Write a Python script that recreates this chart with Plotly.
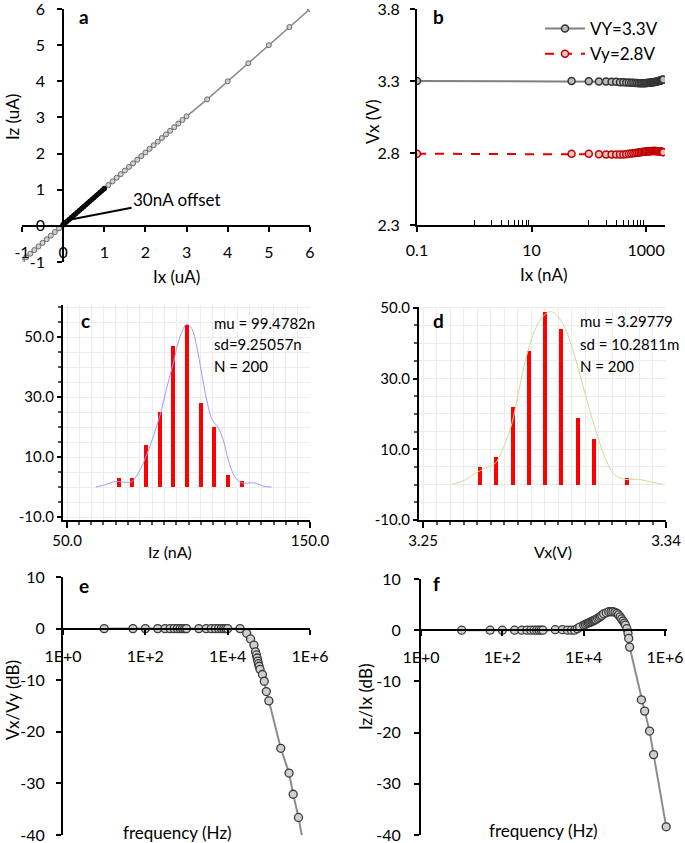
import plotly.graph_objects as go

W, H = 685, 843

# ---------------- Panel a data (uA) ----------------
a_ix_coarse = [-1.0, -0.9, -0.8, -0.7, -0.6, -0.5, -0.4, -0.3, -0.2, -0.1, 0.0,
               1.0, 1.1, 1.2, 1.3, 1.4, 1.5, 1.6, 1.7, 1.8, 1.9, 2.0, 2.1, 2.2,
               2.3, 2.4, 2.5, 2.6, 2.7, 2.8, 2.9, 3.0, 3.5, 4.0, 4.5, 5.0, 5.5, 6.0]
a_iz_coarse = [-0.97, -0.87, -0.77, -0.67, -0.57, -0.47, -0.37, -0.27, -0.17, -0.07, 0.03,
               1.03, 1.13, 1.23, 1.33, 1.43, 1.53, 1.63, 1.73, 1.83, 1.93, 2.03, 2.13, 2.23,
               2.33, 2.43, 2.53, 2.63, 2.73, 2.83, 2.93, 3.03, 3.5, 4.0, 4.5, 5.0, 5.5, 6.0]
a_ix_fine = [0.0, 0.01, 0.02, 0.03, 0.04, 0.05, 0.1, 0.15, 0.2, 0.25, 0.3, 0.35, 0.4,
             0.45, 0.5, 0.55, 0.6, 0.65, 0.7, 0.75, 0.8, 0.85, 0.9, 0.95, 1.0]
a_iz_fine = [0.03, 0.04, 0.05, 0.06, 0.07, 0.08, 0.13, 0.18, 0.23, 0.28, 0.33, 0.38, 0.43,
             0.48, 0.53, 0.58, 0.63, 0.68, 0.73, 0.78, 0.83, 0.88, 0.93, 0.98, 1.03]

# ---------------- Panel b data ----------------
b_ix = [0.1, 50, 100, 150, 200, 250, 300, 350, 400, 450, 500, 550, 600, 650, 700, 750,
        800, 850, 900, 950, 1000, 1050, 1100, 1150, 1200, 1250, 1300, 1350, 1400, 1450,
        1500, 1550, 1600, 1650, 1700, 1750, 1800, 1850, 1900, 1950, 2000]
b_vx_33 = [3.300, 3.300, 3.299, 3.297, 3.296, 3.295, 3.294, 3.292, 3.291, 3.290, 3.289,
           3.288, 3.287, 3.286, 3.286, 3.285, 3.285, 3.285, 3.285, 3.285, 3.286, 3.286,
           3.287, 3.288, 3.289, 3.290, 3.291, 3.292, 3.293, 3.294, 3.295, 3.297, 3.298,
           3.300, 3.301, 3.303, 3.304, 3.306, 3.307, 3.309, 3.310]
b_vx_28 = [2.795, 2.795, 2.794, 2.792, 2.790, 2.789, 2.789, 2.789, 2.790, 2.792, 2.794,
           2.796, 2.798, 2.800, 2.802, 2.804, 2.806, 2.807, 2.808, 2.809, 2.810, 2.811,
           2.812, 2.813, 2.813, 2.814, 2.814, 2.814, 2.814, 2.814, 2.814, 2.813, 2.813,
           2.812, 2.812, 2.811, 2.810, 2.809, 2.808, 2.807, 2.806]
b_legend = ["VY=3.3V", "Vy=2.8V"]

# ---------------- Panel c data ----------------
c_bin = [71.4, 76.9, 82.5, 88.2, 93.8, 99.4, 105.0, 110.6, 116.3, 121.9]
c_count = [3, 3, 14, 25, 47, 54, 28, 20, 4, 2]
c_kde_x = [61.9, 66.3, 69.8, 73.9, 76.6, 79.3, 82.5, 85.5, 88.3, 91.0, 93.7, 96.5, 99.3,
           101.3, 103.4, 105.4, 107.5, 109.5, 112.3, 114.3, 116.4, 119.1, 121.9, 125.3,
           128.1, 130.8, 134.2]
c_kde_y = [0, 0.9, 1.8, 1.6, 1.8, 4.6, 10.1, 16.8, 24.0, 32.9, 41.2, 50.1, 54.3, 52.9,
           46.8, 37.9, 29.0, 22.9, 19.6, 15.7, 9.0, 3.4, 1.4, 1.4, 1.2, 0.3, 0]
c_stats = ["mu = 99.4782n", "sd=9.25057n", "N = 200"]

# ---------------- Panel d data ----------------
d_bin = [3.2711, 3.2770, 3.2832, 3.2893, 3.2953, 3.3012, 3.3075, 3.3134, 3.3196, 3.3257]
d_count = [5, 8, 22, 38, 49, 44, 19, 13, 0, 2]
d_kde_x = [3.2606, 3.2656, 3.2693, 3.2730, 3.2767, 3.2791, 3.2829, 3.2853, 3.2878, 3.2903,
           3.2933, 3.2970, 3.2995, 3.3026, 3.3057, 3.3088, 3.3119, 3.3149, 3.3180, 3.3211,
           3.3248, 3.3297, 3.3347, 3.3390]
d_kde_y = [0, 1.3, 3.2, 4.6, 6.0, 9.3, 17.3, 25.8, 34.7, 41.3, 46.5, 48.9, 47.9, 44.2,
           37.6, 29.1, 20.6, 13.1, 6.5, 2.7, 1.5, 1.5, 0.7, 0]
d_stats = ["mu = 3.29779", "sd = 10.2811m", "N = 200"]

# ---------------- Panel e data ----------------
e_freq = [10, 50, 100, 200, 300, 400, 500, 600, 700, 800, 900, 1000, 2000, 3000, 4000,
          5000, 6000, 7000, 8000, 9000, 10000, 20000, 29000, 36000, 43500, 47500, 50000,
          52000, 54000, 56000, 58000, 61000, 70000, 77500, 87000, 100000, 195000, 310000,
          390000, 525000, 700000]
e_gain = [0, 0, 0, 0, 0, 0, 0, 0, 0, 0, 0, 0, 0, 0, 0, 0, 0, 0, 0, 0, 0, 0, -0.9, -2.0,
          -3.2, -4.5, -5.1, -5.7, -6.3, -6.8, -7.3, -7.9, -8.9, -10.2, -12.2, -14.0, -23.2,
          -28.0, -32.1, -36.6, -41.9]

# ---------------- Panel f data ----------------
f_freq = [10, 50, 100, 200, 300, 400, 500, 600, 700, 800, 900, 1000, 2000, 3000, 4000,
          5000, 6000, 7000, 8000, 10000, 11000, 12000, 13000, 14000, 15000, 16000, 17000,
          18000, 19000, 20000, 22000, 24000, 26000, 28000, 31000, 36000, 41500, 47000,
          52500, 59000, 66000, 72000, 79000, 86000, 93000, 100000, 106000, 115000, 123000,
          128000, 135000, 263000, 316000, 417000, 525000, 1070000]
f_gain = [0, 0, 0, 0, 0, 0, 0, 0, 0, 0, 0, 0, 0.1, 0.1, 0, 0, 0, 0.3, 0.6, 1.0, 1.1, 1.3,
          1.4, 1.5, 1.6, 1.7, 1.8, 1.9, 2.0, 2.1, 2.3, 2.5, 2.7, 2.9, 3.2, 3.4, 3.6, 3.6,
          3.6, 3.5, 3.3, 3.0, 2.6, 2.2, 1.8, 1.4, 1.0, 0.3, -0.6, -1.6, -3.3, -13.6, -15.8,
          -19.7, -24.3, -38.4]

FONT = "Lato"


def fx(px):
    return px / W


def fy(py):
    return 1 - py / H


fig = go.Figure()

# ---- a ----
fig.add_trace(go.Scatter(x=a_ix_coarse, y=a_iz_coarse, mode="lines+markers",
                         line=dict(color="#8a8a8a", width=1.5),
                         marker=dict(size=5, color="#d0d0d0", line=dict(color="#6a6a6a", width=1)),
                         xaxis="x", yaxis="y", showlegend=False))
fig.add_trace(go.Scatter(x=a_ix_fine, y=a_iz_fine, mode="lines+markers",
                         line=dict(color="black", width=2),
                         marker=dict(size=4.5, color="#111111", line=dict(color="black", width=1)),
                         xaxis="x", yaxis="y", showlegend=False))

# ---- b ----
fig.add_trace(go.Scatter(x=b_ix, y=b_vx_33, mode="lines+markers", name=b_legend[0],
                         line=dict(color="#808080", width=2),
                         marker=dict(size=7, color="#bdbdbd", line=dict(color="#333333", width=1.5)),
                         xaxis="x2", yaxis="y2"))
fig.add_trace(go.Scatter(x=b_ix, y=b_vx_28, mode="lines+markers", name=b_legend[1],
                         line=dict(color="#e00000", width=2, dash="dash"),
                         marker=dict(size=7, color="#f3c0c0", line=dict(color="#c00000", width=1.5)),
                         xaxis="x2", yaxis="y2"))

# ---- c ----
fig.add_trace(go.Bar(x=c_bin, y=c_count, width=1.65, marker=dict(color="#ff0000", line=dict(width=0)),
                     xaxis="x3", yaxis="y3", showlegend=False))
fig.add_trace(go.Scatter(x=c_kde_x, y=c_kde_y, mode="lines", line=dict(color="#9b9bff", width=1, shape="spline"),
                         xaxis="x3", yaxis="y3", showlegend=False))

# ---- d ----
fig.add_trace(go.Bar(x=d_bin, y=d_count, width=0.0015, marker=dict(color="#ff0000", line=dict(width=0)),
                     xaxis="x4", yaxis="y4", showlegend=False))
fig.add_trace(go.Scatter(x=d_kde_x, y=d_kde_y, mode="lines", line=dict(color="#d6d69a", width=1, shape="spline"),
                         xaxis="x4", yaxis="y4", showlegend=False))

# ---- e ----
fig.add_trace(go.Scatter(x=e_freq, y=e_gain, mode="lines+markers",
                         line=dict(color="#8c8c8c", width=2),
                         marker=dict(size=8, color="#cfcfcf", line=dict(color="#3a3a3a", width=1.3)),
                         xaxis="x5", yaxis="y5", showlegend=False))
# ---- f ----
fig.add_trace(go.Scatter(x=f_freq, y=f_gain, mode="lines+markers", cliponaxis=False,
                         line=dict(color="#8c8c8c", width=2),
                         marker=dict(size=8, color="#cfcfcf", line=dict(color="#3a3a3a", width=1.3)),
                         xaxis="x6", yaxis="y6", showlegend=False))

TS = 16  # tick font size
ax_common = dict(showline=True, linecolor="black", linewidth=2, showgrid=False, zeroline=False,
                 automargin=False, mirror=False, ticklabeloverflow="allow",
                 ticks="outside", ticklen=5, tickwidth=1.5, tickcolor="black",
                 tickfont=dict(family=FONT, size=TS, color="black"))

# panel a geometry
a_x0, a_x1, a_y0, a_y1 = 22, 310, 262, 9
a_xpos = a_x0 + (0 - (-1)) / 7 * (a_x1 - a_x0)
a_ypos = a_y0 - (0 - (-1)) / 7 * (a_y0 - a_y1)
int_vals = [-1, 0, 1, 2, 3, 4, 5, 6]
int_text = ["-1", "0", "1", "2", "3", "4", "5", "6"]

e_ypos = 577 + 10 / 50 * (835 - 577)
f_ypos = 579 + 10 / 50 * (835 - 579)
f_dec = (665 - 421) / 6.0

layout = dict(
    template="none",
    width=W, height=H, margin=dict(l=0, r=0, t=0, b=0, autoexpand=False),
    paper_bgcolor="white", plot_bgcolor="white",
    font=dict(family=FONT, color="black"),
    bargap=0,
    xaxis=dict(ax_common, domain=[fx(a_x0), fx(a_x1)], range=[-1, 6], anchor="free", position=fy(a_ypos),
               tickvals=int_vals, ticktext=int_text, ticklabelstandoff=7),
    yaxis=dict(ax_common, domain=[fy(a_y0), fy(a_y1)], range=[-1, 6], anchor="free", position=fx(a_xpos),
               tickvals=int_vals, ticktext=int_text, ticklabelstandoff=9),
    xaxis2=dict(ax_common, type="log", domain=[fx(417), fx(665)], range=[-1, 3.33], anchor="y2",
                tickvals=[0.1, 10, 1000], ticktext=["0.1", "10", "1000"], ticklabelstandoff=5,
                minor=dict(tickvals=[1, 2, 3, 4, 5, 6, 7, 8, 9, 100, 200, 300, 400, 500, 600, 700, 800, 900],
                           ticks="inside", ticklen=5, tickwidth=1, tickcolor="black", showgrid=False)),
    yaxis2=dict(ax_common, domain=[fy(225), fy(9)], range=[2.3, 3.8], anchor="x2",
                tickvals=[2.3, 2.8, 3.3, 3.8], ticktext=["2.3", "2.8", "3.3", "3.8"], ticklabelstandoff=7),
    xaxis3=dict(ax_common, domain=[fx(63), fx(310)], range=[48.35, 150], anchor="y3",
                tickvals=[50, 150], ticktext=["50.0", "150.0"], ticklen=6,
                tickfont=dict(family=FONT, size=15, color="black"),
                minor=dict(dtick=5, tick0=50, ticks="outside", ticklen=3, tickcolor="#555555",
                           showgrid=True, gridcolor="#ececec", gridwidth=1)),
    yaxis3=dict(ax_common, domain=[fy(520), fy(305)], range=[-11, 60.7], anchor="x3",
                tickvals=[-10, 10, 30, 50], ticktext=["-10.0", "10.0", "30.0", "50.0"], ticklen=4,
                tickfont=dict(family=FONT, size=15, color="black"),
                minor=dict(dtick=5, tick0=0, ticks="outside", ticklen=3, tickcolor="#555555",
                           showgrid=True, gridcolor="#ececec", gridwidth=1)),
    xaxis4=dict(ax_common, domain=[fx(419), fx(666)], range=[3.2485, 3.34], anchor="y4",
                tickvals=[3.25, 3.34], ticktext=["3.25", "3.34"], ticklen=6,
                tickfont=dict(family=FONT, size=15, color="black"),
                minor=dict(dtick=0.005, tick0=3.25, ticks="outside", ticklen=3, tickcolor="#555555",
                           showgrid=True, gridcolor="#ececec", gridwidth=1)),
    yaxis4=dict(ax_common, domain=[fy(520), fy(306.7)], range=[-10, 50.3], anchor="x4",
                tickvals=[-10, 10, 30, 50], ticktext=["-10.0", "10.0", "30.0", "50.0"], ticklen=4,
                tickfont=dict(family=FONT, size=15, color="black"),
                minor=dict(dtick=5, tick0=0, ticks="outside", ticklen=3, tickcolor="#555555",
                           showgrid=True, gridcolor="#ececec", gridwidth=1)),
    xaxis5=dict(ax_common, type="log", domain=[fx(63), fx(310)], range=[0, 6], anchor="free",
                position=fy(e_ypos), tickvals=[1, 100, 1e4, 1e6],
                ticktext=["1E+0", "1E+2", "1E+4", "1E+6"], ticklabelstandoff=8),
    yaxis5=dict(ax_common, domain=[fy(835), fy(577)], range=[-40, 10], anchor="x5",
                tickvals=[-40, -30, -20, -10, 0, 10], ticktext=["-40", "-30", "-20", "-10", "0", "10"],
                ticklabelstandoff=8),
    xaxis6=dict(ax_common, type="log", domain=[fx(421), fx(421 + 6.06 * f_dec)], range=[0, 6.06],
                anchor="free", position=fy(f_ypos), tickvals=[1, 100, 1e4, 1e6],
                ticktext=["1E+0", "1E+2", "1E+4", "1E+6"], ticklabelstandoff=8),
    yaxis6=dict(ax_common, domain=[fy(835), fy(579)], range=[-40, 10], anchor="x6",
                tickvals=[-40, -30, -20, -10, 0, 10], ticktext=["-40", "-30", "-20", "-10", "0", "10"],
                ticklabelstandoff=10),
    legend=dict(x=fx(540), y=fy(11), xanchor="left", yanchor="top", bgcolor="rgba(0,0,0,0)",
                font=dict(family=FONT, size=17, color="black"), tracegroupgap=0, itemwidth=40),
)
fig.update_layout(**layout)

ann = []


def txt(px, py, s, size=17, bold=False, angle=0, xanchor="center"):
    ann.append(dict(x=fx(px), y=fy(py), xref="paper", yref="paper", text=("<b>%s</b>" % s) if bold else s,
                    showarrow=False, xanchor=xanchor, yanchor="middle", textangle=angle,
                    font=dict(family=FONT, size=size, color="black")))


# panel letters
txt(84, 16, "a", 19, True)
txt(438, 16, "b", 19, True)
txt(85, 320, "c", 19, True)
txt(438, 320, "d", 19, True)
txt(84, 585, "e", 19, True)
txt(436, 583, "f", 19, True)

# axis titles
txt(12, 117, "Iz (uA)", 17, angle=-90)
txt(176, 277, "Ix (uA)", 17)
txt(373, 122, "Vx (V)", 17, angle=-90)
txt(543, 275, "Ix (nA)", 17)
txt(170, 551, "Iz (nA)", 16)
txt(553, 551, "Vx(V)", 16)
txt(12, 700, "Vx/Vy (dB)", 17, angle=-90)
txt(177, 832, "frequency (Hz)", 17)
txt(365, 697, "Iz/Ix (dB)", 17, angle=-90)
txt(543, 830, "frequency (Hz)", 17)

# stats text
for i, s in enumerate(c_stats):
    txt(212, 323 + 21.5 * i, s, 15, xanchor="left")
for i, s in enumerate(d_stats):
    txt(578, 321 + 22.5 * i, s, 15, xanchor="left")

# 30nA offset callout
ann.append(dict(x=0.12, y=0.16, xref="x", yref="y", text="30nA offset", showarrow=True,
                arrowhead=0, arrowwidth=2, arrowcolor="black", ax=109, ay=-21, standoff=0,
                font=dict(family=FONT, size=17, color="black")))

fig.update_layout(annotations=ann)
fig.write_html("out.html", config={"displayModeBar": False},
               post_script="document.body.style.margin='0px';document.body.style.overflow='hidden';")
